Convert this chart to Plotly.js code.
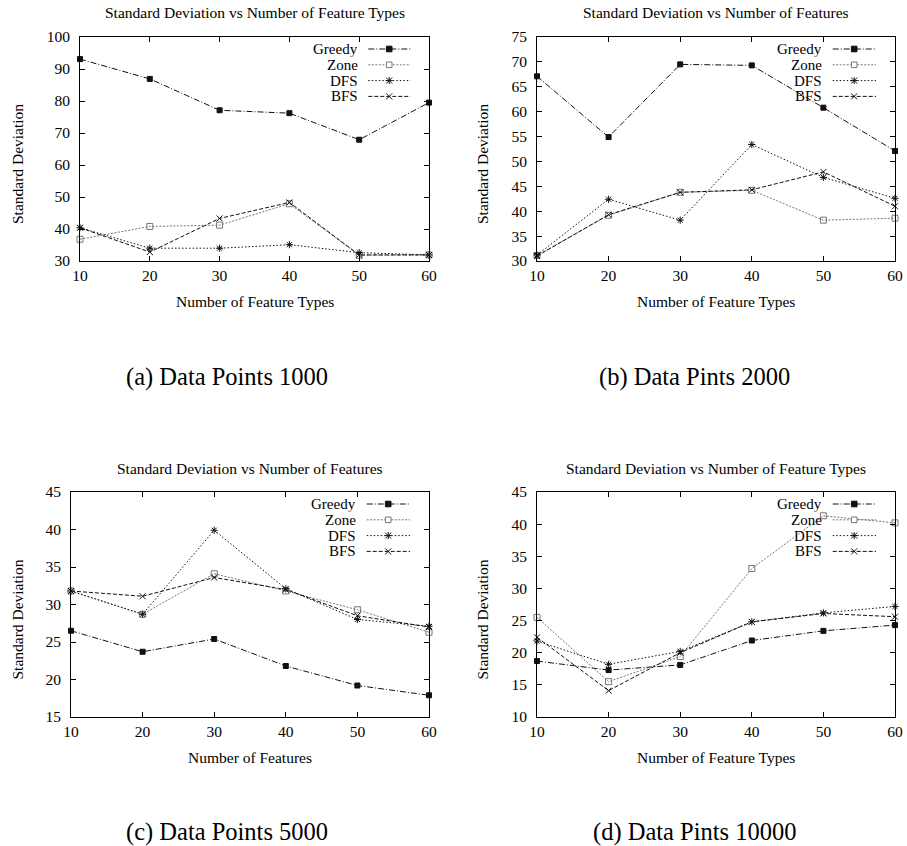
<!DOCTYPE html>
<html>
<head>
<meta charset="utf-8">
<script src="https://cdn.plot.ly/plotly-3.0.1.min.js"></script>
<style>
html,body{margin:0;padding:0;background:#fff;}
#chart{width:907px;height:846px;}
</style>
</head>
<body>
<div id="chart"></div>
<script>
// ---------- data ----------
var xValues = [10, 20, 30, 40, 50, 60];
var seriesNames = ["Greedy", "Zone", "DFS", "BFS"];

// (a) Data Points 1000
var a_greedy = [93.1, 86.9, 77.1, 76.2, 67.9, 79.5];
var a_zone   = [36.8, 40.8, 41.2, 47.9, 31.8, 31.9];
var a_dfs    = [40.4, 34.0, 34.0, 35.1, 32.6, 31.9];
var a_bfs    = [40.4, 32.8, 43.3, 48.3, 31.9, 31.9];

// (b) Data Pints 2000
var b_greedy = [67.1, 54.9, 69.5, 69.3, 60.8, 52.1];
var b_zone   = [31.1, 39.2, 43.8, 44.2, 38.2, 38.6];
var b_dfs    = [31.2, 42.4, 38.2, 53.4, 46.8, 42.6];
var b_bfs    = [31.0, 39.3, 43.8, 44.3, 47.9, 41.0];

// (c) Data Points 5000
var c_greedy = [26.5, 23.7, 25.4, 21.8, 19.2, 17.9];
var c_zone   = [31.8, 28.7, 34.1, 31.8, 29.3, 26.3];
var c_dfs    = [31.8, 28.7, 39.9, 32.1, 28.0, 27.1];
var c_bfs    = [31.8, 31.1, 33.6, 32.0, 28.5, 27.0];

// (d) Data Pints 10000
var d_greedy = [18.7, 17.3, 18.1, 21.9, 23.4, 24.3];
var d_zone   = [25.5, 15.5, 19.4, 33.1, 41.3, 40.2];
var d_dfs    = [21.8, 18.2, 20.2, 24.8, 26.2, 27.2];
var d_bfs    = [22.4, 14.1, 20.0, 24.8, 26.1, 25.6];

var panelTitles = [
  "Standard Deviation vs Number of Feature Types",
  "Standard Deviation vs Number of Features",
  "Standard Deviation vs Number of Features",
  "Standard Deviation vs Number of Feature Types"
];
var xTitles = ["Number of Feature Types", "Number of Feature Types", "Number of Features", "Number of Feature Types"];
var yTitle = "Standard Deviation";
var captions = ["(a) Data Points 1000", "(b) Data Pints 2000", "(c) Data Points 5000", "(d) Data Pints 10000"];
var yRanges = [[30, 100], [30, 75], [15, 45], [10, 45]];
var yDticks = [10, 5, 5, 5];

// ---------- styling ----------
var W = 907, H = 846;
var FONT = "Liberation Serif";
var FS = 15.5;
// plot-area pixel boxes [left, right, top, bottom]
var boxes = [[80, 429, 37, 261], [537, 895, 37, 261], [71, 429, 492, 717], [537, 895, 492, 717]];
var styles = [
  {dash: "6px,2px,1px,2px", color: "#111", symbol: "square", size: 5, lw: 1},
  {dash: "2px,1.5px", color: "#777", symbol: "square-open", size: 6, lw: 1},
  {dash: "1.5px,2px", color: "#111", symbol: "asterisk-open", size: 6, lw: 1},
  {dash: "4px,2px", color: "#111", symbol: "x-thin-open", size: 6, lw: 1}
];
var panelData = [
  [a_greedy, a_zone, a_dfs, a_bfs],
  [b_greedy, b_zone, b_dfs, b_bfs],
  [c_greedy, c_zone, c_dfs, c_bfs],
  [d_greedy, d_zone, d_dfs, d_bfs]
];

function px2x(p) { return p / W; }
function px2y(p) { return 1 - p / H; }

var traces = [];
var layout = {
  width: W, height: H,
  margin: {l: 0, r: 0, t: 0, b: 0},
  paper_bgcolor: "#fff", plot_bgcolor: "#fff",
  showlegend: false,
  font: {family: FONT, size: FS, color: "#000"},
  annotations: [], shapes: []
};

for (var p = 0; p < 4; p++) {
  var b = boxes[p];
  var xs = p === 0 ? "" : String(p + 1);
  var xa = "x" + xs, ya = "y" + xs;
  for (var s = 0; s < 4; s++) {
    var st = styles[s];
    traces.push({
      type: "scatter", mode: "lines+markers",
      x: xValues, y: panelData[p][s], name: seriesNames[s],
      xaxis: xa, yaxis: ya, cliponaxis: false,
      line: {color: st.color, width: st.lw, dash: st.dash},
      marker: {symbol: st.symbol, size: st.size, color: st.color,
               line: {color: st.color, width: 1}}
    });
  }
  var axBase = {
    showline: true, mirror: "ticks", linecolor: "#000", linewidth: 1,
    ticks: "inside", ticklen: 5, tickwidth: 1, tickcolor: "#000",
    showgrid: false, zeroline: false, fixedrange: true,
    tickfont: {family: FONT, size: FS, color: "#000"}
  };
  layout["xaxis" + xs] = Object.assign({}, axBase, {
    domain: [px2x(b[0]), px2x(b[1])], anchor: ya,
    range: [10, 60], tickvals: xValues, ticklabelstandoff: 0
  });
  layout["yaxis" + xs] = Object.assign({}, axBase, {
    domain: [px2y(b[3]), px2y(b[2])], anchor: xa,
    range: yRanges[p], dtick: yDticks[p], tick0: 0, ticklabelstandoff: 6
  });
  var cx = (b[0] + b[1]) / 2;
  // panel title
  layout.annotations.push({text: panelTitles[p], xref: "paper", yref: "paper",
    x: px2x(cx), y: px2y(b[2] - 24), xanchor: "center", yanchor: "middle",
    showarrow: false, font: {family: FONT, size: FS, color: "#000"}});
  // x title
  layout.annotations.push({text: xTitles[p], xref: "paper", yref: "paper",
    x: px2x(cx), y: px2y(b[3] + 40), xanchor: "center", yanchor: "middle",
    showarrow: false, font: {family: FONT, size: FS, color: "#000"}});
  // y title
  var yx = p % 2 === 0 ? 17 : 482;
  layout.annotations.push({text: yTitle, xref: "paper", yref: "paper", textangle: -90,
    x: px2x(yx), y: px2y((b[2] + b[3]) / 2 + 15), xanchor: "center", yanchor: "middle",
    showarrow: false, font: {family: FONT, size: FS, color: "#000"}});
  // caption
  var capX = p % 2 === 0 ? 227 : 694;
  var capY = p < 2 ? 377 : 832;
  layout.annotations.push({text: captions[p], xref: "paper", yref: "paper",
    x: px2x(capX), y: px2y(capY), xanchor: "center", yanchor: "middle",
    showarrow: false, font: {family: FONT, size: 24.5, color: "#000"}});
  // legend (gnuplot style: label right-aligned, sample on the right)
  var w = b[1] - b[0];
  for (var s2 = 0; s2 < 4; s2++) {
    var st2 = styles[s2];
    var ry = b[2] + 12 + 15.8 * s2;
    layout.annotations.push({text: seriesNames[s2], xref: "paper", yref: "paper",
      x: px2x(b[0] + 0.80 * w), y: px2y(ry), xanchor: "right", yanchor: "middle",
      height: 15.6, borderpad: 0, valign: "middle",
      showarrow: false, font: {family: FONT, size: 15, color: "#000"}});
    layout.shapes.push({type: "line", xref: "paper", yref: "paper",
      x0: px2x(b[0] + 0.826 * w), x1: px2x(b[0] + 0.947 * w), y0: px2y(ry), y1: px2y(ry),
      line: {color: st2.color, width: 1, dash: st2.dash}});
    var mx = px2x(b[0] + 0.886 * w), my = px2y(ry);
    var path;
    if (s2 === 0 || s2 === 1) {
      layout.shapes.push({type: "rect", xref: "paper", yref: "paper",
        xsizemode: "pixel", ysizemode: "pixel", xanchor: mx, yanchor: my,
        x0: -2.8, x1: 2.8, y0: -2.8, y1: 2.8,
        fillcolor: s2 === 0 ? st2.color : "#fff", line: {color: st2.color, width: 1}});
    } else {
      path = s2 === 2 ? "M-3,-3L3,3M-3,3L3,-3M0,-3.5L0,3.5M-3.5,0L3.5,0" : "M-3,-3L3,3M-3,3L3,-3";
      layout.shapes.push({type: "path", xref: "paper", yref: "paper",
        xsizemode: "pixel", ysizemode: "pixel", xanchor: mx, yanchor: my,
        path: path, line: {color: st2.color, width: 1}});
    }
  }
}

Plotly.newPlot("chart", traces, layout, {staticPlot: true, displayModeBar: false});
</script>
</body>
</html>
